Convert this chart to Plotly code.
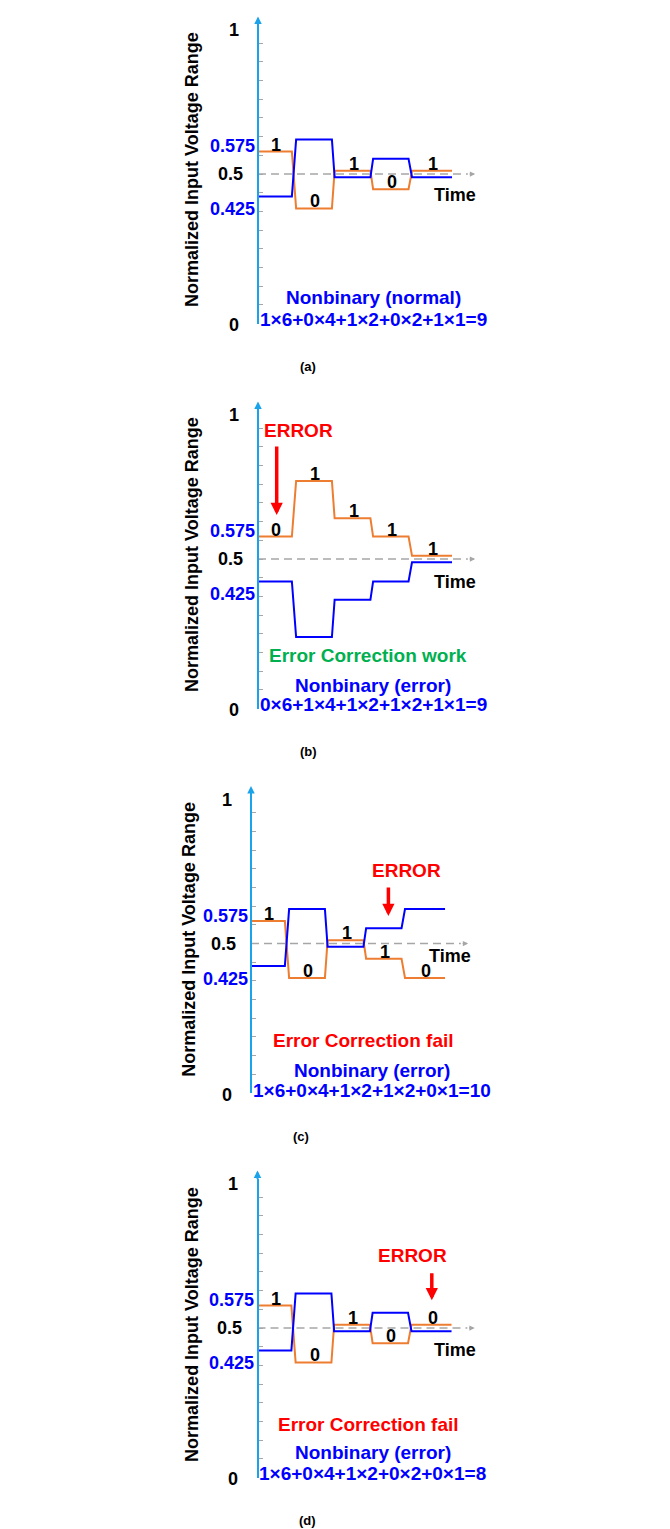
import plotly.graph_objects as go

FONT = "Liberation Sans, Arial, Helvetica, sans-serif"
W, H = 670, 1529
PX_T = 38.5    # pixels per bit period on the time axis
PX_V = 299.0   # pixels per unit of normalized voltage

AXIS_BLUE = "#1AA3EA"
TICK_GREY = "#A6A6A6"
DASH_GREY = "#A6A6A6"
ORANGE = "#ED7D31"
BLUE = "#0000FF"
RED = "#FF0000"
GREEN = "#00B050"

# ---------------- data ----------------
panel_tags = ["(a)", "(b)", "(c)", "(d)"]

seg_start = [0.0, 0.99, 1.99, 2.99, 4.0]
seg_end = [0.88, 1.92, 2.92, 3.91, 5.04]

vp_a = [0.575, 0.385, 0.511, 0.449, 0.511]
vn_a = [0.425, 0.615, 0.489, 0.551, 0.489]
bits_a = ["1", "0", "1", "0", "1"]

vp_b = [0.575, 0.761, 0.636, 0.575, 0.511]
vn_b = [0.425, 0.239, 0.364, 0.425, 0.489]
bits_b = ["0", "1", "1", "1", "1"]

vp_c = [0.575, 0.385, 0.511, 0.449, 0.385]
vn_c = [0.425, 0.615, 0.489, 0.551, 0.615]
bits_c = ["1", "0", "1", "1", "0"]

vp_d = [0.575, 0.385, 0.511, 0.449, 0.511]
vn_d = [0.425, 0.615, 0.489, 0.551, 0.489]
bits_d = ["1", "0", "1", "0", "0"]

ref_level = 0.5
dash_end = 5.45
time_arrow_tip = 5.64

tick_text = ["1", "0.575", "0.5", "0.425", "0"]
minor_ticks = [0.0625, 0.125, 0.1875, 0.25, 0.3125, 0.375, 0.4375, 0.5,
               0.5625, 0.625, 0.6875, 0.75, 0.8125, 0.875, 0.9375]

titles = ["Nonbinary (normal)", "Nonbinary (error)", "Nonbinary (error)", "Nonbinary (error)"]
formulas = ["1×6+0×4+1×2+0×2+1×1=9", "0×6+1×4+1×2+1×2+1×1=9",
            "1×6+0×4+1×2+1×2+0×1=10", "1×6+0×4+1×2+0×2+0×1=8"]
status = [None, "Error Correction work", "Error Correction fail", "Error Correction fail"]
status_color = [None, GREEN, RED, RED]

# ---------------- layout geometry (pixels) ----------------
axis_px = [258.0, 258.0, 251.0, 257.5]
mid_px = [174.0, 559.0, 943.5, 1328.0]
title_dx = [-66.0, -66.0, -62.7, -65.6]
time_pos = [(197, 21), (197, 22.7), (199.3, 12.4), (197.7, 21.6)]
status_pos = [None, (110.3, 96.7), (112.3, 96.7), (110.8, 96.6)]
nonb_pos = [(115.3, 123.3), (115.3, 126.0), (120.7, 126.7), (115.8, 124.6)]
form_pos = [(115.3, 145.3), (115.3, 145.3), (120.7, 146.7), (115.2, 145.6)]
# error arrow: (x offset, tip y offset, length), text position
err_arrow = [None, (18.7, -44.0, 70.0), (137.4, -27.6, 30.0), (174.3, -27.8, 28.5)]
err_text = [None, (40.3, -129.0), (155.7, -72.6), (154.8, -72.3)]
tag_pos = [(50.0, 192.0), (50.0, 192.0), (49.5, 192.5), (49.5, 192.5)]

panels = [
    (vp_a, vn_a, bits_a),
    (vp_b, vn_b, bits_b),
    (vp_c, vn_c, bits_c),
    (vp_d, vn_d, bits_d),
]

fig = go.Figure()
annotations = []
axes = {}


def label(xa, ya, text, dx, dy, size=18, color="black", xanchor="center",
          yanchor="middle", angle=0):
    annotations.append(dict(
        xref=xa, yref=ya, x=0, y=ref_level, xshift=dx, yshift=-dy,
        text="<b>%s</b>" % text, showarrow=False, textangle=angle,
        font=dict(family=FONT, size=size, color=color),
        xanchor=xanchor, yanchor=yanchor))


for i in range(4):
    n = "" if i == 0 else str(i + 1)
    xa, ya = "x" + n, "y" + n
    A, M = axis_px[i], mid_px[i]
    vp, vn, bits = panels[i]

    y0px = M + 0.5 * PX_V
    y1px = M - 0.5 * PX_V
    axes["xaxis" + n] = dict(domain=[0, 1], range=[-A / PX_T, (W - A) / PX_T],
                             visible=False, anchor=ya, fixedrange=True)
    axes["yaxis" + n] = dict(domain=[1 - y0px / H, 1 - y1px / H], range=[0, 1],
                             anchor="free", position=A / W, showline=True,
                             linecolor=AXIS_BLUE, linewidth=2, ticks="inside",
                             tickvals=minor_ticks, ticklen=4, tickwidth=1,
                             tickcolor=TICK_GREY, showticklabels=False,
                             showgrid=False, zeroline=False, fixedrange=True)

    # dashed reference line (0.5)
    fig.add_trace(go.Scatter(x=[0, dash_end], y=[ref_level, ref_level], mode="lines",
                             line=dict(color=DASH_GREY, width=1.5, dash="8px,5px"),
                             xaxis=xa, yaxis=ya, hoverinfo="skip", showlegend=False))

    xs, yp, yn = [], [], []
    for s, e, p, q in zip(seg_start, seg_end, vp, vn):
        xs += [s, e]
        yp += [p, p]
        yn += [q, q]
    fig.add_trace(go.Scatter(x=xs, y=yp, mode="lines", line=dict(color=ORANGE, width=2),
                             xaxis=xa, yaxis=ya, hoverinfo="skip", showlegend=False))
    fig.add_trace(go.Scatter(x=xs, y=yn, mode="lines", line=dict(color=BLUE, width=2),
                             xaxis=xa, yaxis=ya, hoverinfo="skip", showlegend=False))

    # bit labels sitting on the orange line
    for s, e, p, b in zip(seg_start, seg_end, vp, bits):
        annotations.append(dict(xref=xa, yref=ya, x=(s + e) / 2 + 0.03, y=p, yshift=7,
                                text="<b>%s</b>" % b, showarrow=False,
                                font=dict(family=FONT, size=18, color="black"),
                                xanchor="center", yanchor="middle"))

    # axis arrow at top
    annotations.append(dict(xref=xa, yref=ya, x=0, y=1, yshift=8, ax=0, ay=10,
                            text="", showarrow=True, arrowhead=2, arrowsize=0.75,
                            arrowwidth=2, arrowcolor=AXIS_BLUE))
    # time arrow head
    annotations.append(dict(xref=xa, yref=ya, x=time_arrow_tip, y=ref_level, ax=-7, ay=0,
                            text="", showarrow=True, arrowhead=2, arrowsize=0.7,
                            arrowwidth=1.5, arrowcolor=DASH_GREY))

    # y tick labels
    label(xa, ya, tick_text[0], -24.5, -144)
    label(xa, ya, tick_text[1], -1.5, -28, color=BLUE, xanchor="right")
    label(xa, ya, tick_text[2], -13.5, 0, xanchor="right")
    label(xa, ya, tick_text[3], -1.5, 35.3, color=BLUE, xanchor="right")
    label(xa, ya, tick_text[4], -24.5, 151)

    # y title
    label(xa, ya, "Normalized Input Voltage Range", title_dx[i], -4, size=18, angle=-90)

    # Time
    label(xa, ya, "Time", time_pos[i][0], time_pos[i][1], size=18)

    # texts
    if status[i]:
        label(xa, ya, status[i], status_pos[i][0], status_pos[i][1], size=19,
              color=status_color[i])
    label(xa, ya, titles[i], nonb_pos[i][0], nonb_pos[i][1], size=19, color=BLUE)
    label(xa, ya, formulas[i], form_pos[i][0], form_pos[i][1], size=19, color=BLUE)

    # ERROR marker
    if err_arrow[i]:
        dx, tip, length = err_arrow[i]
        annotations.append(dict(xref=xa, yref=ya, x=0, y=ref_level, xshift=dx, yshift=-tip,
                                ax=0, ay=-length, text="", showarrow=True, arrowhead=2,
                                arrowsize=0.7, arrowwidth=3.5, arrowcolor=RED))
        label(xa, ya, "ERROR", err_text[i][0], err_text[i][1], size=19, color=RED)

    # panel tag
    label(xa, ya, panel_tags[i], tag_pos[i][0], tag_pos[i][1], size=13)

fig.update_layout(width=W, height=H, margin=dict(l=0, r=0, t=0, b=0),
                  paper_bgcolor="white", plot_bgcolor="white",
                  showlegend=False, annotations=annotations, **axes)

fig.write_html("out.html")
